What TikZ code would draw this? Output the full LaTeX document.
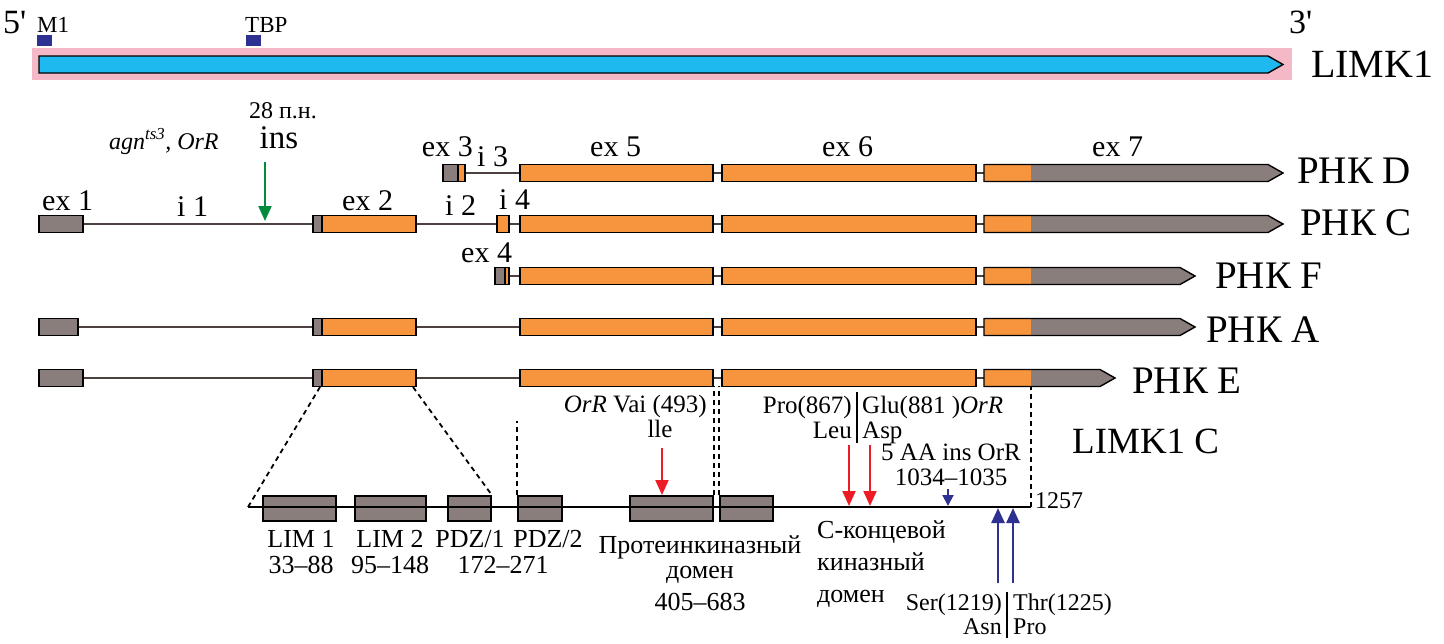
\documentclass[tikz,border=0pt]{standalone}
\usepackage{fontspec}
\setmainfont{Liberation Serif}
\usetikzlibrary{arrows.meta}

\definecolor{exorange}{HTML}{F7953F}
\definecolor{exgrey}{HTML}{8A7E7D}
\definecolor{genblue}{HTML}{1EB9EE}
\definecolor{genpink}{HTML}{F5B8C6}
\definecolor{navy}{HTML}{2E3192}
\definecolor{mutred}{HTML}{ED1C24}
\definecolor{insgreen}{HTML}{008C3C}
\definecolor{intron}{HTML}{4D4140}

\tikzset{%
    exline/.style={draw=black, line width=1.4pt},
    intronline/.style={draw=intron, line width=1.6pt},
    domainbox/.style={draw=black, line width=1.8pt, fill=exgrey,
        minimum height=25pt, inner sep=0pt},
    protline/.style={draw=black, line width=1.8pt},
    zoomline/.style={draw=black, line width=1.8pt, dash pattern=on 5pt off 4pt},
    mutarrow/.style={line width=2pt, -{Triangle[length=15pt,width=13pt]}},
    primetxt/.style={inner sep=0pt, font=\fontsize{34}{36}\selectfont},
    smalltxt/.style={inner sep=0pt, font=\fontsize{23}{25}\selectfont},
    rnatxt/.style={inner sep=0pt, font=\fontsize{39}{41}\selectfont},
    extxt/.style={inner sep=0pt, font=\fontsize{30}{32}\selectfont},
    aatxt/.style={inner sep=0pt, font=\fontsize{26}{28}\selectfont},
    mutxt/.style={inner sep=0pt, font=\fontsize{25}{27}\selectfont},
}

\begin{document}
\begin{tikzpicture}[x=1pt, y=-1pt]
\useasboundingbox (0,0) rectangle (1444,643);

% gene
\fill[genpink] (32,48) rectangle (1292,80);
\draw[exline, fill=genblue] (39,56) -- (1268,56) -- (1283,64.5) -- (1268,73) -- (39,73) -- cycle;
\fill[navy] (37,35) rectangle (52,46);
\fill[navy] (246,35) rectangle (261,46);
\node[primetxt, anchor=base west] (end5) at (3,33) {5\textquotesingle};
\node[primetxt, anchor=base west] (end3) at (1289,33) {3\textquotesingle};
\node[smalltxt, anchor=base west] (m1) at (37,32) {M1};
\node[smalltxt, anchor=base west] (tbp) at (245,32) {TBP};
\node[rnatxt, anchor=base west, font=\fontsize{40}{42}\selectfont] (limk) at (1311,77) {LIMK1};

% transcripts
\draw[intronline] (465,173) -- (520,173)
    (83,224) -- (313,224) (416,224) -- (497,224) (509,224) -- (520,224)
    (509,276) -- (520,276)
    (78,327) -- (313,327) (416,327) -- (520,327)
    (83,378) -- (313,378) (416,378) -- (520,378);
\foreach \y/\tip in {173/1268, 224/1268, 276/1180, 327/1180, 378/1100}{
    \draw[intronline] (713,\y) -- (722,\y) (976,\y) -- (984,\y);
    \draw[exline, fill=exorange] (520,\y-8.5) rectangle (713,\y+8.5);
    \draw[exline, fill=exorange] (722,\y-8.5) rectangle (976,\y+8.5);
    \fill[exgrey] (984,\y-8.5) -- (\tip,\y-8.5) -- (\tip+15,\y) -- (\tip,\y+8.5) -- (984,\y+8.5) -- cycle;
    \fill[exorange] (984,\y-8.5) rectangle (1031,\y+8.5);
    \draw[exline] (984,\y-8.5) -- (\tip,\y-8.5) -- (\tip+15,\y) -- (\tip,\y+8.5) -- (984,\y+8.5) -- cycle;
}
\foreach \xa/\xb/\xc/\y in {443/458/465/173, 313/322/416/224, 495/505/509/276, 313/322/416/327, 313/322/416/378}{
    \fill[exgrey] (\xa,\y-8.5) rectangle (\xb,\y+8.5);
    \fill[exorange] (\xb,\y-8.5) rectangle (\xc,\y+8.5);
    \draw[exline] (\xa,\y-8.5) rectangle (\xc,\y+8.5) (\xb,\y-8.5) -- (\xb,\y+8.5);
}
\foreach \x/\y in {83/224, 78/327, 83/378}
    \draw[exline, fill=exgrey] (39,\y-8.5) rectangle (\x,\y+8.5);
\draw[exline, fill=exorange] (497,215.5) rectangle (509,232.5);

\node[rnatxt, anchor=base west] (rnaD) at (1297,183) {РНК D};
\node[rnatxt, anchor=base west] (rnaC) at (1300,235) {РНК C};
\node[rnatxt, anchor=base west] (rnaF) at (1215,288) {РНК F};
\node[rnatxt, anchor=base west] (rnaA) at (1206,342) {РНК A};
\node[rnatxt, anchor=base west] (rnaE) at (1132,393) {РНК E};

\node[extxt, anchor=base west] (ex1) at (42,210) {ex 1};
\node[extxt, anchor=base west] (in1) at (177,216) {i 1};
\node[extxt, anchor=base west] (ex2) at (342,210) {ex 2};
\node[extxt, anchor=base west] (in2) at (445,215) {i 2};
\node[extxt, anchor=base west] (in4) at (499,209) {i 4};
\node[extxt, anchor=base east] (ex3) at (473,156) {ex 3};
\node[extxt, anchor=base west] (in3) at (477,166) {i 3};
\node[extxt, anchor=base west] (ex4) at (461,262) {ex 4};
\node[extxt, anchor=base west] (ex5) at (590,156) {ex 5};
\node[extxt, anchor=base west] (ex6) at (822,156) {ex 6};
\node[extxt, anchor=base west] (ex7) at (1092,156) {ex 7};

% insertion
\node[smalltxt, anchor=base west, font=\fontsize{24}{26}\selectfont\itshape] (agn) at (109,149) {agn\textsuperscript{ts3}, OrR};
\node[smalltxt, anchor=base, font=\fontsize{24}{26}\selectfont] (bp) at (283,118) {28 п.н.};
\node[extxt, anchor=base, font=\fontsize{33}{35}\selectfont] (ins) at (279,148) {ins};
\coordinate (insfrom) at (265,162);
\coordinate (insat) at (265,221);
\draw[mutarrow, insgreen] (insfrom) -- (insat);

% protein
\node[rnatxt, anchor=base west, font=\fontsize{37}{39}\selectfont] (limkc) at (1072,453) {LIMK1 C};
\node[domainbox, minimum width=73pt] (lim1) at (299.5,508.5) {};
\node[domainbox, minimum width=71pt] (lim2) at (390.5,508.5) {};
\node[domainbox, minimum width=43pt] (pdz1) at (469.5,508.5) {};
\node[domainbox, minimum width=44pt] (pdz2) at (540,508.5) {};
\node[domainbox, minimum width=83pt] (kin1) at (671.5,508.5) {};
\node[domainbox, minimum width=53pt] (kin2) at (746.5,508.5) {};
\coordinate (pstart) at (248,507);
\coordinate (pend) at (1031,507);
\draw[protline] (pstart) -- (pend);
\node[mutxt, anchor=base west, font=\fontsize{24}{26}\selectfont] (plen) at (1035,508) {1257};

\coordinate (ex2left) at (320,387);
\coordinate (ex2right) at (413,387);
\draw[zoomline] (ex2left) -- (pstart);
\draw[zoomline] (ex2right) -- (pdz1.north east);
\draw[zoomline] (pdz2.north west) -- ++(0,-74);
\draw[zoomline] (kin1.north east) -- ++(0,-109);
\draw[zoomline] (kin2.north west) -- ++(0,-109);
\draw[zoomline] (pend) -- ++(0,-120);

\node[aatxt, anchor=base] (lim1lbl) at (301,547) {LIM 1};
\node[aatxt, anchor=base] (lim1pos) at (301,573) {33--88};
\node[aatxt, anchor=base] (lim2lbl) at (390,547) {LIM 2};
\node[aatxt, anchor=base] (lim2pos) at (390,573) {95--148};
\node[aatxt, anchor=base] (pdz1lbl) at (470,547) {PDZ/1};
\node[aatxt, anchor=base] (pdz2lbl) at (548,547) {PDZ/2};
\node[aatxt, anchor=base] (pdzpos) at (503,573) {172--271};
\node[aatxt, anchor=base] (kinlbl) at (700,553) {Протеинкиназный};
\node[aatxt, anchor=base] (kindom) at (700,578) {домен};
\node[aatxt, anchor=base] (kinpos) at (700,610) {405--683};
\node[aatxt, anchor=base west] (ctlbl) at (817,538) {С-концевой};
\node[aatxt, anchor=base west] (ctkin) at (817,570) {киназный};
\node[aatxt, anchor=base west] (ctdom) at (817,602) {домен};

% mutations
\node[mutxt, anchor=base east] (val) at (707,412) {\textit{OrR} Vai (493)};
\node[mutxt, anchor=base] (ile) at (660,437) {lle};
\coordinate (valfrom) at (662,448);
\coordinate (valat) at (662,495);
\draw[mutarrow, mutred] (valfrom) -- (valat);

\node[mutxt, anchor=base east] (pro) at (852,413) {Pro(867)};
\node[mutxt, anchor=base east] (leu) at (852,438) {Leu};
\node[mutxt, anchor=base west] (glu) at (862,413) {Glu(881 )\textit{OrR}};
\node[mutxt, anchor=base west] (asp) at (862,438) {Asp};
\draw[line width=1.5pt] (857,392) -- (857,443);
\coordinate (profrom) at (849,445);
\coordinate (proat) at (849,506);
\coordinate (glufrom) at (870,445);
\coordinate (gluat) at (870,506);
\draw[mutarrow, mutred] (profrom) -- (proat);
\draw[mutarrow, mutred] (glufrom) -- (gluat);

\node[mutxt, anchor=base] (aains) at (951,460) {5 AA ins OrR};
\node[mutxt, anchor=base] (aapos) at (951,485) {1034--1035};
\coordinate (aafrom) at (948,489);
\coordinate (aaat) at (948,506);
\draw[navy, line width=2pt, -{Triangle[length=11pt,width=11pt]}] (aafrom) -- (aaat);

\node[mutxt, anchor=base east, font=\fontsize{24}{26}\selectfont] (ser) at (1002,610) {Ser(1219)};
\node[mutxt, anchor=base east, font=\fontsize{24}{26}\selectfont] (asn) at (1002,634) {Asn};
\node[mutxt, anchor=base west, font=\fontsize{24}{26}\selectfont] (thr) at (1013,610) {Thr(1225)};
\node[mutxt, anchor=base west, font=\fontsize{24}{26}\selectfont] (prob) at (1013,634) {Pro};
\draw[line width=1.5pt] (1007,592) -- (1007,638);
\coordinate (serfrom) at (998,583);
\coordinate (serat) at (998,508);
\coordinate (thrfrom) at (1013,583);
\coordinate (thrat) at (1013,508);
\draw[mutarrow, navy, line width=2.5pt] (serfrom) -- (serat);
\draw[mutarrow, navy, line width=2.5pt] (thrfrom) -- (thrat);
\end{tikzpicture}
\end{document}
